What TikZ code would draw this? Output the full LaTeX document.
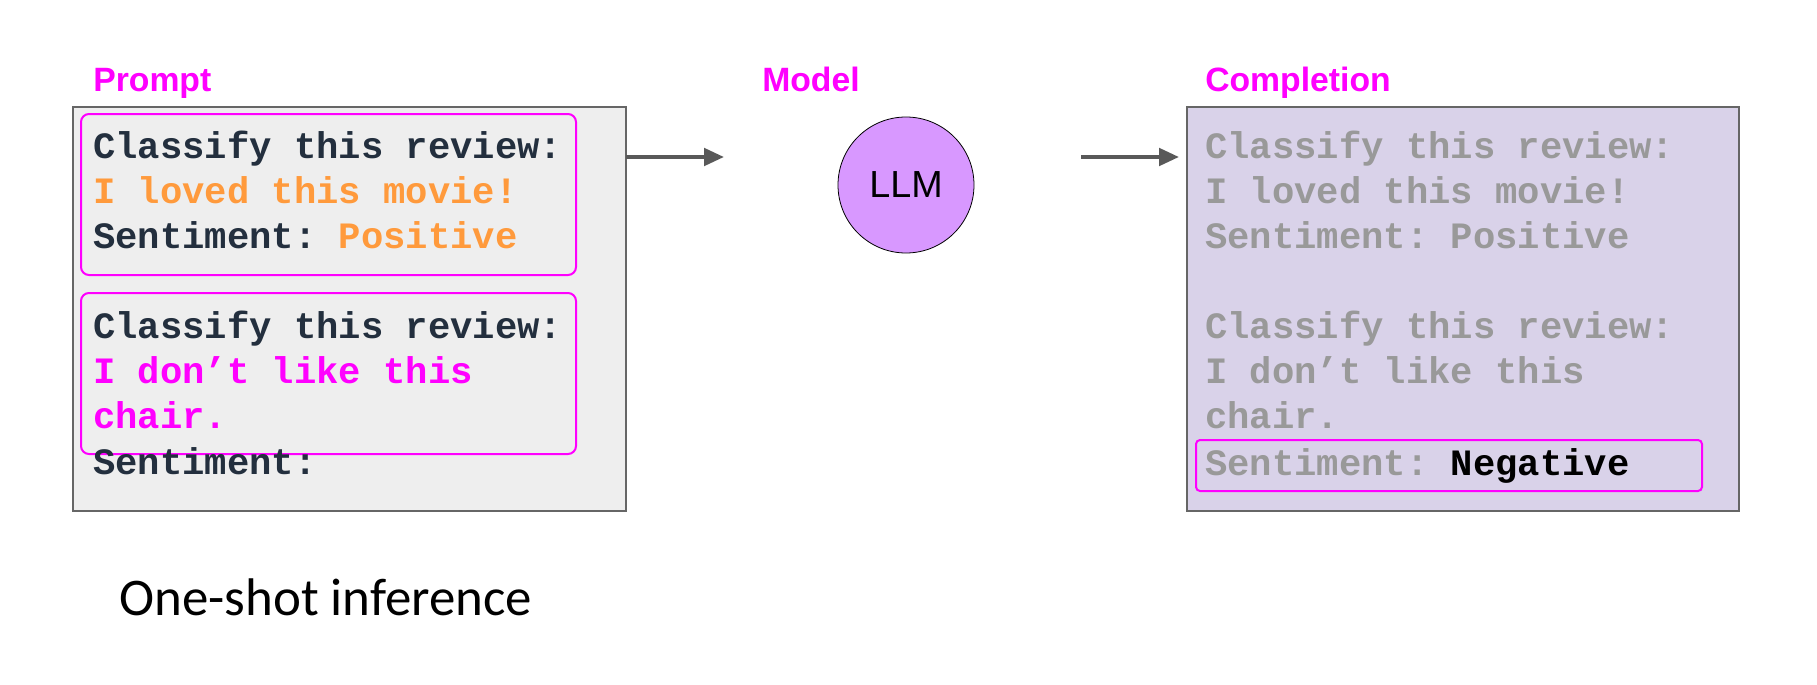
\documentclass[tikz,border=0pt]{standalone}
\usepackage{fontspec}
\setmainfont{Liberation Sans}
\newfontfamily\monob{Liberation Mono}
\newfontfamily\calib{Carlito}
\usetikzlibrary{arrows.meta}
\frenchspacing
\definecolor{navy}{HTML}{232F3E}
\definecolor{orng}{HTML}{FF9A3C}
\definecolor{mgnt}{HTML}{FF00FF}
\definecolor{grytxt}{HTML}{999999}
\definecolor{llmfill}{HTML}{D898FF}
\definecolor{cmpfill}{HTML}{D9D2E9}
\definecolor{prmfill}{HTML}{EEEEEE}
\definecolor{bordr}{HTML}{666666}
\definecolor{arrowc}{HTML}{595959}
\tikzset{
  monotxt/.style={anchor=base west, inner sep=0pt, font=\monob\bfseries\fontsize{27.9}{33}\selectfont},
  lbl/.style={anchor=base west, inner sep=0pt, text=mgnt, font=\bfseries\fontsize{25.3}{29}\selectfont},
  outerbox/.style={draw=bordr, line width=1.1pt},
  hibox/.style={draw=mgnt, line width=1.5pt, rounded corners=6pt},
  flow/.style={draw=arrowc, line width=3pt, -{Triangle[length=15pt,width=13pt]}}
}
\begin{document}
\begin{tikzpicture}[x=0.75pt,y=-0.75pt]
\useasboundingbox (0,0) rectangle (1817,685);
% outer boxes
\path[outerbox, fill=prmfill] (73,107) rectangle (626,511);
\path[outerbox, fill=cmpfill] (1187,107) rectangle (1739,511);
\node[coordinate] (pE) at (626,157) {};
\node[coordinate] (a1) at (724,157) {};
\node[coordinate] (b2) at (1081,157) {};
\node[coordinate] (cW) at (1179,157) {};
% labels
\node[lbl] (lp) at (93,92) {Prompt};
\node[lbl] (lm) at (762,92) {Model};
\node[lbl] (lc) at (1205,92) {Completion};
% highlight boxes
\draw[hibox] (81,114) rectangle (576,275);
\draw[hibox] (81,293) rectangle (576,454);
% prompt text
\node[monotxt, text=navy] (p1) at (93,158) {Classify this review:};
\node[monotxt, text=orng] (p2) at (93,203) {I loved this movie!};
\node[monotxt, text=navy] (p3) at (93,248) {Sentiment: \textcolor{orng}{Positive}};
\node[monotxt, text=navy] (p4) at (93,338) {Classify this review:};
\node[monotxt, text=mgnt] (p5) at (93,383) {I don’t like this};
\node[monotxt, text=mgnt] (p6) at (93,428) {chair.};
\node[monotxt, text=navy] (p7) at (93,474) {Sentiment:};
% model
\node[circle, draw=black, line width=0.6pt, fill=llmfill, minimum size=102pt, inner sep=0pt,
  font=\fontsize{28.3}{32}\selectfont] (llm) at (906,185) {LLM};
% completion text
\node[monotxt, text=grytxt] (c1) at (1205,158) {Classify this review:};
\node[monotxt, text=grytxt] (c2) at (1205,203) {I loved this movie!};
\node[monotxt, text=grytxt] (c3) at (1205,248) {Sentiment: Positive};
\node[monotxt, text=grytxt] (c4) at (1205,338) {Classify this review:};
\node[monotxt, text=grytxt] (c5) at (1205,383) {I don’t like this};
\node[monotxt, text=grytxt] (c6) at (1205,428) {chair.};
\node[monotxt, text=grytxt] (c7) at (1205,475) {Sentiment: \textcolor{black}{Negative}};
\draw[hibox, rounded corners=3pt] (1196,440) rectangle (1702,491);
% arrows
\draw[flow] (pE) -- (a1);
\draw[flow] (b2) -- (cW);
% caption
\node[anchor=base west, inner sep=0pt, font=\calib\fontsize{39.7}{45}\selectfont] (cap) at (119,615) {One-shot inference};
\end{tikzpicture}
\end{document}
